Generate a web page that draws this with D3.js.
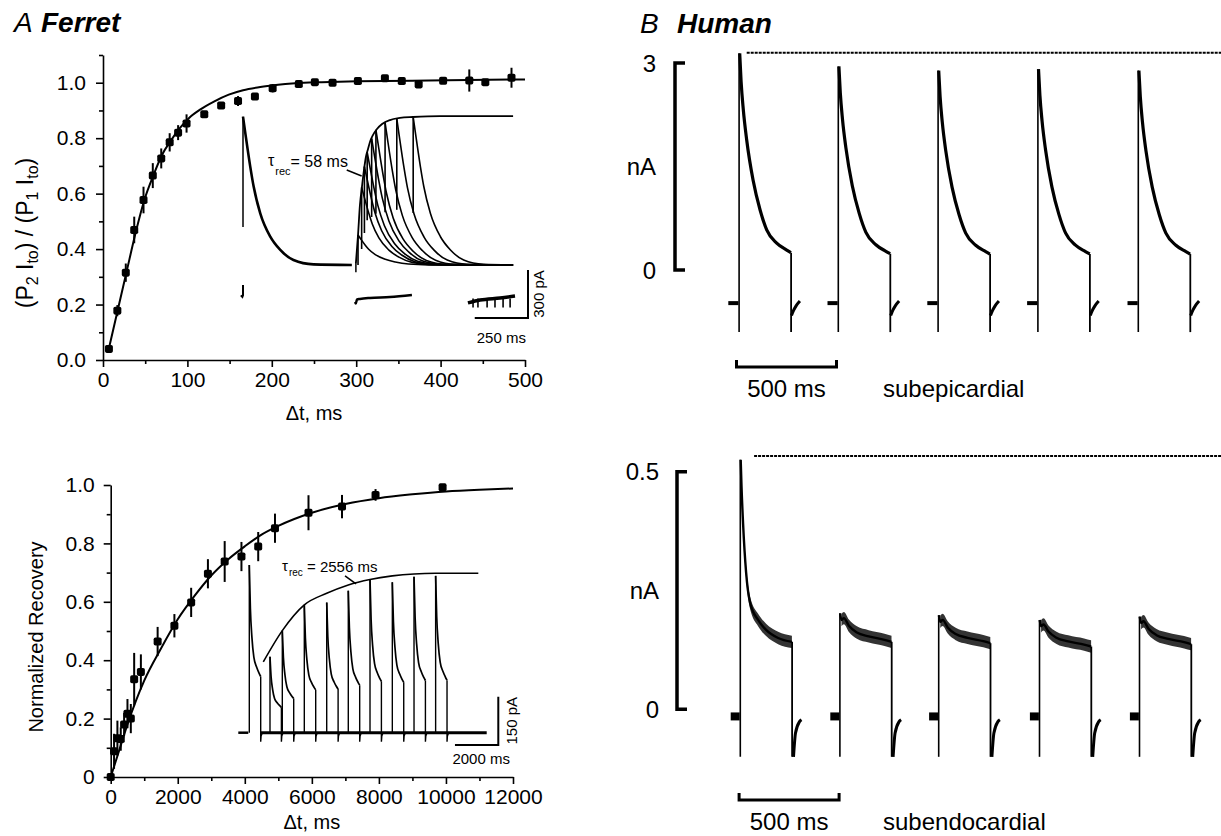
<!DOCTYPE html>
<html>
<head>
<meta charset="utf-8">
<script src="https://cdn.jsdelivr.net/npm/d3@7"></script>
<style>
body { margin: 0; background: #fff; }
text { font-family: "Liberation Sans", Arial, Helvetica, sans-serif; fill: #000; }
</style>
</head>
<body>
<script>
//Width and height
var w = 1221;
var h = 836;

// ---------- A (upper): ferret, fast recovery ----------
var fastDt  = [7, 17, 27, 37, 48, 59, 69, 79, 89, 99, 120, 140, 160, 180, 201, 232, 251, 272, 302, 334, 354, 374, 403, 434, 453, 484];
var fastRec = [0.04, 0.178, 0.315, 0.469, 0.577, 0.665, 0.727, 0.785, 0.82, 0.853, 0.886, 0.918, 0.934, 0.95, 0.98, 0.995, 1.002, 1.0, 1.006, 1.016, 1.006, 0.994, 1.007, 1.008, 1.002, 1.018];
var fastErr = [0.01, 0.02, 0.033, 0.048, 0.048, 0.045, 0.036, 0.033, 0.027, 0.033, 0.012, 0.012, 0.018, 0.01, 0.015, 0.01, 0.01, 0.008, 0.008, 0.01, 0.008, 0.01, 0.01, 0.04, 0.008, 0.036];
var fastFitDt  = [7, 17, 28, 38.5, 49, 60, 70, 81, 91, 102, 115, 132, 149, 166, 183, 200, 216, 238, 259, 301, 386, 500];
var fastFitRec = [0.042, 0.174, 0.319, 0.457, 0.577, 0.668, 0.74, 0.794, 0.836, 0.873, 0.903, 0.933, 0.957, 0.973, 0.983, 0.99, 0.995, 1.0, 1.002, 1.005, 1.008, 1.012];
var fastXTicks = [0, 100, 200, 300, 400, 500];
var fastXMinor = [50, 150, 250, 350, 450];
var fastYTicks = [0, 0.2, 0.4, 0.6, 0.8, 1.0];
var fastYMinor = [0.1, 0.3, 0.5, 0.7, 0.9, 1.1];

// inset: current traces (ms, pA)
var p1Decay = [[0, 927], [11, 823], [34, 615], [50, 490], [81, 323], [128, 177], [175, 94], [237, 31], [331, 4], [511, 0]];
var p1SpikeLow = 237;
var p1Hold = [[-10, -190], [-3, -200], [0, -190], [0, -125]];
var p2Start = 530;
var p2End = 1268;
var p2EnvT  = [530, 540, 549, 559, 568, 577, 587, 596, 610, 629, 653, 690, 737, 798, 925, 1268];
var p2EnvPA = [12, 187, 375, 494, 594, 675, 725, 769, 812, 850, 881, 906, 919, 925, 931, 931];
var p2PeakT  = [540, 557, 570, 583, 604, 624, 667, 722, 799];
var p2PeakPA = [187, 485, 615, 705, 790, 845, 890, 915, 925];
var p2LowPA  = [0, 100, 200, 280, 300, 320, 330, 345, 325];
var tail1 = [[526, -231], [530, -240], [535, -215], [549, -212], [596, -206], [690, -200], [793, -187]];
var tail2 = [[1056, -237], [1113, -219], [1207, -206], [1277, -194]];
var tail2Drops = [1080, 1103, 1146, 1183, 1221, 1254];

// ---------- A (lower): ferret, slow recovery ----------
var slowDt  = [0, 100, 200, 300, 400, 500, 600, 700, 900, 1400, 1900, 2400, 2900, 3400, 3900, 4400, 4900, 5900, 6900, 7900, 9900];
var slowRec = [0, 0.088, 0.133, 0.13, 0.18, 0.217, 0.2, 0.335, 0.36, 0.464, 0.518, 0.598, 0.696, 0.738, 0.755, 0.789, 0.852, 0.905, 0.926, 0.966, 0.992];
var slowErr = [0, 0.06, 0.06, 0.04, 0.04, 0.05, 0.05, 0.09, 0.06, 0.05, 0.04, 0.05, 0.05, 0.07, 0.05, 0.05, 0.05, 0.06, 0.04, 0.02, 0.01];
var slowFitDt  = [0, 250, 500, 1000, 1500, 2000, 2500, 3000, 3500, 4000, 4500, 5000, 6000, 7000, 8000, 9000, 10000, 11000, 12000];
var slowFitRec = [0, 0.09, 0.18, 0.33, 0.44, 0.54, 0.62, 0.69, 0.745, 0.79, 0.83, 0.86, 0.905, 0.935, 0.955, 0.968, 0.978, 0.984, 0.988];
var slowXTicks = [0, 2000, 4000, 6000, 8000, 10000, 12000];
var slowXMinor = [1000, 3000, 5000, 7000, 9000, 11000];
var slowYTicks = [0, 0.2, 0.4, 0.6, 0.8, 1.0];
var slowYMinor = [0.1, 0.3, 0.5, 0.7, 0.9];

// inset: pulse train (ms, pA)
var slowPulseT  = [0, 955, 1523, 2538, 3572, 4568, 5570, 6600, 7601, 8598];
var slowPulsePA = [521, 236, 317, 397, 404, 441, 476, 467, 484, 487];
var slowShape = [[0, 1], [50, 0.74], [120, 0.57], [210, 0.45], [340, 0.39], [450, 0.355], [526, 0.335]];
var slowOff = [[526, -28], [545, -10], [600, 0]];
var slowEnvT  = [646, 1523, 2538, 3572, 4568, 5570, 6600, 7601, 8598, 10568];
var slowEnvPA = [220, 317, 397, 433, 459, 476, 487, 493, 495, 495];

// ---------- B: human traces (ms, nA) ----------
var epiStarts = [0, 496, 995, 1494, 1996];
var epiPeaks  = [3.14, 2.95, 2.89, 2.91, 2.89];
var epiShape  = [[3, 1.0], [10, 0.87], [21, 0.74], [38, 0.6], [70, 0.414], [105, 0.277], [138, 0.185], [188, 0.124], [238, 0.092], [259, 0.08]];
var epiHold = -0.48;
var epiLow = -0.9;
var epiTail = [[262, -0.66], [270, -0.6], [285, -0.52], [304, -0.45]];
var epiTop = 3.15;

var endoStarts = [0, 498, 992, 1496, 1996];
var endoPeaks  = [0.525, 0.202, 0.198, 0.188, 0.195];
var endoFirst  = [[2, 0.525], [6, 0.47], [14, 0.39], [29, 0.288], [49, 0.224], [89, 0.188], [129, 0.167], [189, 0.15], [258, 0.142]];
var endoLater  = [[1, 1.0], [8, 0.93], [20, 0.95], [45, 0.87], [85, 0.8], [144, 0.76], [223, 0.724], [258, 0.703]];
var endoHold = -0.015;
var endoLow = -0.1;
var endoTail = [[266, -0.1], [276, -0.05], [296, -0.026], [306, -0.022]];
var endoTop = 0.533;

//Create SVG element
var svg = d3.select("body")
    .append("svg")
    .attr("width", w)
    .attr("height", h);

svg.append("rect").attr("width", w).attr("height", h).attr("fill", "#fff");

function lineOf(xs, ys, curve) {
    return d3.line()
        .x(function(d) { return xs(d[0]); })
        .y(function(d) { return ys(d[1]); })
        .curve(curve || d3.curveLinear);
}

function styleAxis(g, fs) {
    g.attr("font-family", "Liberation Sans, Arial, sans-serif").attr("font-size", fs);
    g.select(".domain").attr("stroke-width", 1.6);
    g.selectAll(".tick line").attr("stroke-width", 1.6);
    g.selectAll(".tick text").attr("fill", "#000");
}

function minorAxis(axis, tr) {
    var g = svg.append("g").attr("transform", tr).call(axis);
    g.select(".domain").remove();
    g.selectAll("line").attr("stroke-width", 1.6);
}

function drawPoints(xs, ys, dts, vals, errs) {
    var data = dts.map(function(t, i) { return {t: t, v: vals[i], e: errs[i]}; });
    svg.append("g").selectAll("line")
        .data(data)
        .enter().append("line")
        .attr("x1", function(d) { return xs(d.t); })
        .attr("x2", function(d) { return xs(d.t); })
        .attr("y1", function(d) { return ys(d.v - d.e); })
        .attr("y2", function(d) { return ys(d.v + d.e); })
        .attr("stroke", "#000")
        .attr("stroke-width", 2);
    svg.append("g").selectAll("rect")
        .data(data)
        .enter().append("rect")
        .attr("x", function(d) { return xs(d.t) - 4; })
        .attr("y", function(d) { return ys(d.v) - 4; })
        .attr("width", 8)
        .attr("height", 8)
        .attr("rx", 1.8)
        .attr("fill", "#000");
}

/* ================= A upper plot ================= */
var xA = d3.scaleLinear().domain([0, 500]).range([103, 525]);
var yA = d3.scaleLinear().domain([0, 1.1]).range([360, 55]);

var gxA = svg.append("g").attr("transform", "translate(0," + yA(0) + ")")
    .call(d3.axisBottom(xA).tickValues(fastXTicks).tickSize(7).tickSizeOuter(0).tickPadding(5));
styleAxis(gxA, 21);
minorAxis(d3.axisBottom(xA).tickValues(fastXMinor).tickSize(4).tickFormat(""), "translate(0," + yA(0) + ")");

var gyA = svg.append("g").attr("transform", "translate(" + xA(0) + ",0)")
    .call(d3.axisLeft(yA).tickValues(fastYTicks).tickFormat(d3.format(".1f")).tickSize(7).tickSizeOuter(0).tickPadding(10));
styleAxis(gyA, 21);
minorAxis(d3.axisLeft(yA).tickValues(fastYMinor).tickSize(4).tickFormat(""), "translate(" + xA(0) + ",0)");

svg.append("path")
    .datum(fastFitDt.map(function(t, i) { return [t, fastFitRec[i]]; }))
    .attr("d", lineOf(xA, yA, d3.curveMonotoneX))
    .attr("fill", "none").attr("stroke", "#000").attr("stroke-width", 2);

drawPoints(xA, yA, fastDt, fastRec, fastErr);

// inset traces
var ixA = d3.scaleLinear().domain([0, 1338]).range([243, 528]);
var iyA = d3.scaleLinear().domain([0, 300]).range([265, 217]);
var insetA = svg.append("g").attr("fill", "none").attr("stroke", "#000");

insetA.append("line")
    .attr("x1", ixA(0)).attr("x2", ixA(0))
    .attr("y1", iyA(p1SpikeLow)).attr("y2", iyA(p1Decay[0][1]))
    .attr("stroke-width", 1.5);
insetA.append("path").datum(p1Decay)
    .attr("d", lineOf(ixA, iyA, d3.curveMonotoneX)).attr("stroke-width", 2.6);
insetA.append("path").datum(p1Hold)
    .attr("d", lineOf(ixA, iyA)).attr("stroke-width", 2);

var p1Peak = p1Decay[0][1];
p2PeakT.forEach(function(t0, i) {
    var pk = p2PeakPA[i];
    var pts = p1Decay.map(function(d) { return [t0 + d[0], pk * d[1] / p1Peak]; })
        .filter(function(d) { return d[0] <= p2End; });
    if (pts[pts.length - 1][0] < p2End) pts.push([p2End, 0]);
    insetA.append("line")
        .attr("x1", ixA(t0)).attr("x2", ixA(t0))
        .attr("y1", iyA(p2LowPA[i])).attr("y2", iyA(pk))
        .attr("stroke-width", 1.6);
    insetA.append("path").datum(pts)
        .attr("d", lineOf(ixA, iyA, d3.curveMonotoneX)).attr("stroke-width", 1.6);
});
insetA.append("line")
    .attr("x1", ixA(p2Start)).attr("x2", ixA(p2Start))
    .attr("y1", iyA(-45)).attr("y2", iyA(p2EnvPA[0]))
    .attr("stroke-width", 1.5);
insetA.append("path")
    .datum(p2EnvT.map(function(t, i) { return [t, p2EnvPA[i]]; }))
    .attr("d", lineOf(ixA, iyA, d3.curveMonotoneX)).attr("stroke-width", 1.8);

insetA.append("path").datum(tail1).attr("d", lineOf(ixA, iyA, d3.curveMonotoneX)).attr("stroke-width", 2.5);
insetA.append("path").datum(tail2).attr("d", lineOf(ixA, iyA, d3.curveMonotoneX)).attr("stroke-width", 3.5);
tail2Drops.forEach(function(t) {
    insetA.append("line")
        .attr("x1", ixA(t)).attr("x2", ixA(t))
        .attr("y1", iyA(-210)).attr("y2", iyA(-265))
        .attr("stroke-width", 1.6);
});

// scale bars
insetA.append("path")
    .datum([[1088, -331], [1338, -331], [1338, -31]])
    .attr("d", lineOf(ixA, iyA)).attr("stroke-width", 2);
svg.append("text").attr("x", ixA(1213)).attr("y", 343)
    .attr("text-anchor", "middle").attr("font-size", 15).text("250 ms");
svg.append("text").attr("transform", "translate(544," + iyA(-181) + ") rotate(-90)")
    .attr("text-anchor", "middle").attr("font-size", 15).text("300 pA");

var tauA = svg.append("text").attr("x", ixA(117)).attr("y", iyA(619)).attr("font-size", 16);
tauA.append("tspan").text("τ");
tauA.append("tspan").attr("font-size", 11).attr("dy", 9).attr("dx", 1).text("rec");
tauA.append("tspan").attr("dy", -8).text("= 58 ms");
insetA.append("path").datum([[487, 594], [557, 556]])
    .attr("d", lineOf(ixA, iyA)).attr("stroke-width", 1.5);

// labels
var ylA = svg.append("text")
    .attr("transform", "translate(33,233) rotate(-90)")
    .attr("text-anchor", "middle")
    .attr("font-size", 23);
ylA.append("tspan").text("(P");
ylA.append("tspan").attr("font-size", 16).attr("dy", 5).text("2");
ylA.append("tspan").attr("dy", -5).text(" I");
ylA.append("tspan").attr("font-size", 16).attr("dy", 5).text("to");
ylA.append("tspan").attr("dy", -5).text(") / (P");
ylA.append("tspan").attr("font-size", 16).attr("dy", 5).text("1");
ylA.append("tspan").attr("dy", -5).text(" I");
ylA.append("tspan").attr("font-size", 16).attr("dy", 5).text("to");
ylA.append("tspan").attr("dy", -5).text(")");

svg.append("text").attr("x", (xA(0) + xA(500)) / 2).attr("y", 420)
    .attr("text-anchor", "middle").attr("font-size", 20).text("Δt, ms");

var titleA = svg.append("text").attr("x", 14).attr("y", 32).attr("font-size", 28);
titleA.append("tspan").attr("font-style", "italic").text("A");
titleA.append("tspan").attr("x", 41).attr("font-style", "italic").attr("font-weight", "bold").text("Ferret");

/* ================= A lower plot ================= */
var xB = d3.scaleLinear().domain([0, 12000]).range([110.7, 513]);
var yB = d3.scaleLinear().domain([0, 1]).range([777, 485]);

var gxB = svg.append("g").attr("transform", "translate(0," + yB(0) + ")")
    .call(d3.axisBottom(xB).tickValues(slowXTicks).tickFormat(d3.format("d")).tickSize(7).tickSizeOuter(0).tickPadding(5));
styleAxis(gxB, 21);
minorAxis(d3.axisBottom(xB).tickValues(slowXMinor).tickSize(4).tickFormat(""), "translate(0," + yB(0) + ")");

var gyB = svg.append("g").attr("transform", "translate(" + xB(0) + ",0)")
    .call(d3.axisLeft(yB).tickValues(slowYTicks)
        .tickFormat(function(d) { return d === 0 ? "0" : d3.format(".1f")(d); })
        .tickSize(7).tickSizeOuter(0).tickPadding(9));
styleAxis(gyB, 21);
minorAxis(d3.axisLeft(yB).tickValues(slowYMinor).tickSize(4).tickFormat(""), "translate(" + xB(0) + ",0)");

svg.append("path")
    .datum(slowFitDt.map(function(t, i) { return [t, slowFitRec[i]]; }))
    .attr("d", lineOf(xB, yB, d3.curveMonotoneX))
    .attr("fill", "none").attr("stroke", "#000").attr("stroke-width", 2);

drawPoints(xB, yB, slowDt, slowRec, slowErr);

// inset pulse train
var ixB = d3.scaleLinear().domain([0, 11490]).range([249.3, 498.3]);
var iyB = d3.scaleLinear().domain([0, 150]).range([732.7, 684.4]);
var insetB = svg.append("g").attr("fill", "none").attr("stroke", "#000");

insetB.append("path").datum([[-508, 0], [-46, 0]]).attr("d", lineOf(ixB, iyB)).attr("stroke-width", 2.5);
insetB.append("path").datum([[494, 0], [10955, 0]]).attr("d", lineOf(ixB, iyB)).attr("stroke-width", 3);

slowPulseT.forEach(function(t0, i) {
    var pk = slowPulsePA[i];
    var dec = slowShape.map(function(d) { return [t0 + d[0], pk * d[1]]; });
    var last = dec[dec.length - 1];
    var off = [last].concat(slowOff.map(function(d) { return [t0 + d[0], d[1]]; }));
    insetB.append("line")
        .attr("x1", ixB(t0)).attr("x2", ixB(t0))
        .attr("y1", iyB(0)).attr("y2", iyB(pk))
        .attr("stroke-width", 1.4);
    insetB.append("path").datum(dec).attr("d", lineOf(ixB, iyB, d3.curveMonotoneX)).attr("stroke-width", 1.7);
    insetB.append("path").datum(off).attr("d", lineOf(ixB, iyB)).attr("stroke-width", 1.4);
});

insetB.append("path")
    .datum(slowEnvT.map(function(t, i) { return [t, slowEnvPA[i]]; }))
    .attr("d", lineOf(ixB, iyB, d3.curveMonotoneX)).attr("stroke-width", 1.6);

insetB.append("path")
    .datum([[9490, -38], [11490, -38], [11490, 112]])
    .attr("d", lineOf(ixB, iyB)).attr("stroke-width", 2);
svg.append("text").attr("x", ixB(10700)).attr("y", 764)
    .attr("text-anchor", "middle").attr("font-size", 15).text("2000 ms");
svg.append("text").attr("transform", "translate(517," + iyB(37) + ") rotate(-90)")
    .attr("text-anchor", "middle").attr("font-size", 15).text("150 pA");

var tauB = svg.append("text").attr("x", ixB(1509)).attr("y", iyB(502)).attr("font-size", 15);
tauB.append("tspan").text("τ");
tauB.append("tspan").attr("font-size", 10).attr("dy", 5).attr("dx", 1).text("rec");
tauB.append("tspan").attr("dy", -4).text(" = 2556 ms");
insetB.append("path").datum([[4416, 487], [4924, 462]])
    .attr("d", lineOf(ixB, iyB)).attr("stroke-width", 1.5);

svg.append("text")
    .attr("transform", "translate(43,637) rotate(-90)")
    .attr("text-anchor", "middle").attr("font-size", 20).text("Normalized Recovery");
svg.append("text").attr("x", (xB(0) + xB(12000)) / 2).attr("y", 829)
    .attr("text-anchor", "middle").attr("font-size", 20).text("Δt, ms");

/* ================= B: human ================= */
var titleB = svg.append("text").attr("x", 640).attr("y", 33).attr("font-size", 28);
titleB.append("tspan").attr("font-style", "italic").text("B");
titleB.append("tspan").attr("x", 677).attr("font-style", "italic").attr("font-weight", "bold").text("Human");

function drawPanel(xs, ys, opt) {
    var g = svg.append("g").attr("fill", "none").attr("stroke", "#000");
    // dotted peak reference
    g.append("path").datum([[opt.topFrom, opt.top], [2410, opt.top]])
        .attr("d", lineOf(xs, ys)).attr("stroke-width", 2).attr("stroke-dasharray", "3,1");
    opt.starts.forEach(function(t0, i) {
        var dec = opt.shapeFor(i).map(function(d) { return [t0 + d[0], d[1]]; });
        var last = dec[dec.length - 1];
        g.append("path").datum([[t0 - opt.holdLen, opt.hold], [t0 - 3, opt.hold]])
            .attr("d", lineOf(xs, ys)).attr("stroke-width", opt.holdW);
        g.append("line")
            .attr("x1", xs(t0)).attr("x2", xs(t0))
            .attr("y1", ys(opt.low)).attr("y2", ys(dec[0][1]))
            .attr("stroke-width", 1.6);
        if (opt.band) {
            g.append("path").datum(dec.slice(1))
                .attr("d", d3.area()
                    .x(function(d) { return xs(d[0]); })
                    .y0(function(d) { return ys(d[1] - opt.band); })
                    .y1(function(d) { return ys(d[1] + opt.band); })
                    .curve(d3.curveMonotoneX))
                .attr("stroke", "none").attr("fill", "#333");
        }
        g.append("path").datum(dec).attr("d", lineOf(xs, ys, d3.curveMonotoneX)).attr("stroke-width", opt.lineW);
        g.append("line")
            .attr("x1", xs(last[0] + 1)).attr("x2", xs(last[0] + 1))
            .attr("y1", ys(last[1])).attr("y2", ys(opt.low))
            .attr("stroke-width", 1.8);
        g.append("path").datum(opt.tail.map(function(d) { return [t0 + d[0], d[1]]; }))
            .attr("d", lineOf(xs, ys, d3.curveMonotoneX)).attr("stroke-width", 3);
    });
    // amplitude bracket
    g.append("path")
        .attr("d", "M" + (opt.bx + 10) + "," + ys(opt.bTop) + "H" + opt.bx + "V" + ys(0) + "H" + (opt.bx + 10))
        .attr("stroke-width", 3.5);
    // 500 ms bar
    g.append("path")
        .attr("d", "M" + xs(opt.barFrom) + "," + (opt.barY - 7) + "V" + opt.barY + "H" + xs(opt.barFrom + 500) + "V" + (opt.barY - 7))
        .attr("stroke-width", 3);
    svg.append("text").attr("x", opt.lx).attr("y", ys(opt.bTop) + 8.5)
        .attr("text-anchor", "end").attr("font-size", 24).text(opt.topLabel);
    svg.append("text").attr("x", opt.lx).attr("y", (ys(opt.bTop) + ys(0)) / 2 + 8.5)
        .attr("text-anchor", "end").attr("font-size", 24).text("nA");
    svg.append("text").attr("x", opt.lx).attr("y", ys(0) + 8.5)
        .attr("text-anchor", "end").attr("font-size", 24).text("0");
    svg.append("text").attr("x", xs(opt.barFrom + 250)).attr("y", opt.barY + 30)
        .attr("text-anchor", "middle").attr("font-size", 24).text("500 ms");
    svg.append("text").attr("x", 883).attr("y", opt.barY + 30)
        .attr("font-size", 24).text(opt.name);
}

var xEpi = d3.scaleLinear().domain([0, 2400]).range([739.1, 1219.1]);
var yEpi = d3.scaleLinear().domain([0, 3]).range([270, 63]);
drawPanel(xEpi, yEpi, {
    starts: epiStarts,
    shapeFor: function(i) { return epiShape.map(function(d) { return [d[0], d[1] * epiPeaks[i]]; }); },
    hold: epiHold, holdLen: 54, holdW: 4, low: epiLow, tail: epiTail,
    top: epiTop, topFrom: 38, lineW: 3.2, band: 0,
    bx: 675, bTop: 3, topLabel: "3", lx: 656,
    barFrom: -13, barY: 367, name: "subepicardial"
});

var xEndo = d3.scaleLinear().domain([0, 2400]).range([740.3, 1220.3]);
var yEndo = d3.scaleLinear().domain([0, 0.5]).range([709.3, 471.7]);
drawPanel(xEndo, yEndo, {
    starts: endoStarts,
    shapeFor: function(i) {
        if (i === 0) return endoFirst;
        return endoLater.map(function(d) { return [d[0], d[1] * endoPeaks[i]]; });
    },
    hold: endoHold, holdLen: 48, holdW: 8, low: endoLow, tail: endoTail,
    top: endoTop, topFrom: 69, lineW: 2.4, band: 0.013,
    bx: 677, bTop: 0.5, topLabel: "0.5", lx: 659,
    barFrom: -6, barY: 800, name: "subendocardial"
});
</script>
</body>
</html>
